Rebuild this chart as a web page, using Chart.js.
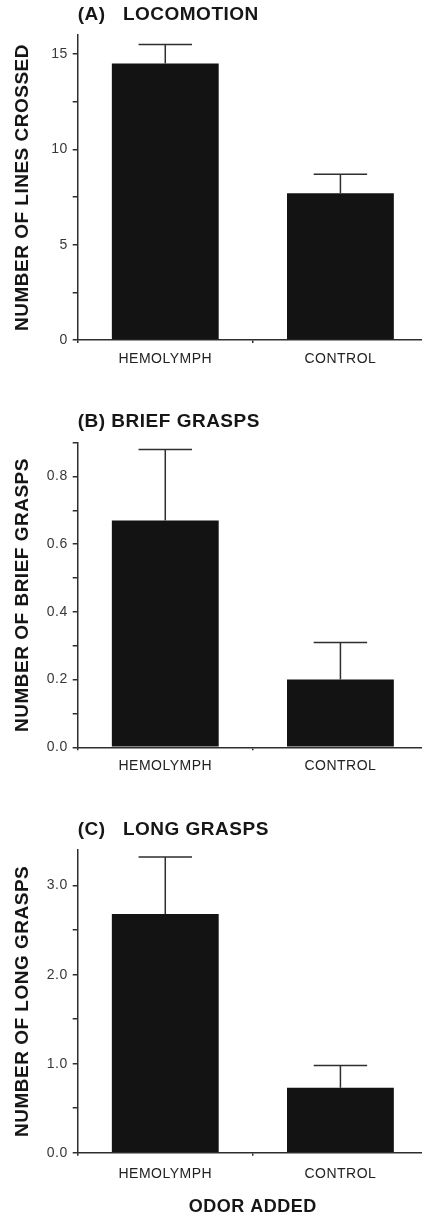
<!DOCTYPE html>
<html><head><meta charset="utf-8">
<script src="https://cdn.jsdelivr.net/npm/chart.js@4.4.1/dist/chart.umd.min.js"></script>
<style>
html,body{margin:0;padding:0;background:#fff;overflow:hidden;width:422px;height:1218px;position:relative;}
.panel{position:absolute;left:0;}
</style></head><body>
<canvas id="cA" class="panel" style="top:0px" width="428" height="375"></canvas>
<canvas id="cB" class="panel" style="top:375px" width="428" height="405"></canvas>
<canvas id="cC" class="panel" style="top:780px" width="428" height="438"></canvas>
<script>
// ---- data ----
const categories = ['HEMOLYMPH', 'CONTROL'];
const locomotionMeans = [14.5, 7.7];
const locomotionErrors = [1.0, 1.0];
const briefMeans = [0.67, 0.20];
const briefErrors = [0.21, 0.11];
const longMeans = [2.68, 0.73];
const longErrors = [0.64, 0.25];
const panelTitles = ['(A)   LOCOMOTION', '(B) BRIEF GRASPS', '(C)   LONG GRASPS'];
const yTitles = ['NUMBER OF LINES CROSSED', 'NUMBER OF BRIEF GRASPS', 'NUMBER OF LONG GRASPS'];
const xTitle = 'ODOR ADDED';

// ---- styling ----
const FONT = "'Liberation Sans', Arial, Helvetica, sans-serif";
const INK = '#161616';
const AXIS = '#2e2e2e';
const LS = '0.5px';

const spacing = {
  id: 'spacing',
  beforeUpdate(c) { c.ctx.letterSpacing = LS; },
  beforeLayout(c) { c.ctx.letterSpacing = LS; },
  beforeDraw(c) { c.ctx.letterSpacing = LS; }
};

const errorBars = {
  id: 'errorBars',
  afterDatasetsDraw(chart) {
    const ctx = chart.ctx, ys = chart.scales.y;
    chart.data.datasets.forEach((ds, di) => {
      const meta = chart.getDatasetMeta(di);
      meta.data.forEach((bar, i) => {
        const top = ys.getPixelForValue(ds.data[i] + ds.errors[i]);
        const base = ys.getPixelForValue(ds.data[i]);
        const half = bar.width * 0.25;
        ctx.save();
        ctx.strokeStyle = AXIS;
        ctx.lineWidth = 1.5;
        ctx.beginPath();
        ctx.moveTo(bar.x, base);
        ctx.lineTo(bar.x, top);
        ctx.moveTo(bar.x - half, top);
        ctx.lineTo(bar.x + half, top);
        ctx.stroke();
        ctx.restore();
      });
    });
  }
};

function panel(id, cfg) {
  new Chart(document.getElementById(id), {
    type: 'bar',
    data: {
      labels: categories,
      datasets: [{
        data: cfg.means,
        errors: cfg.errors,
        backgroundColor: '#131313',
        borderWidth: 0,
        barPercentage: 0.61,
        categoryPercentage: 1
      }]
    },
    plugins: [spacing, errorBars],
    options: {
      responsive: false,
      animation: false,
      devicePixelRatio: 1,
      layout: { padding: 0 },
      plugins: {
        legend: { display: false },
        tooltip: { enabled: false },
        title: {
          display: true, text: cfg.title, align: 'start', fullSize: false,
          color: INK, font: { family: FONT, size: 19, weight: 'bold' },
          padding: { top: cfg.tp, bottom: cfg.tb }
        }
      },
      scales: {
        x: {
          grid: { display: true, drawOnChartArea: false, tickLength: 3, color: AXIS, lineWidth: 1.5, offset: true },
          border: { display: true, color: AXIS, width: 1.5 },
          ticks: { color: '#222', font: { family: FONT, size: 14 }, padding: cfg.xpad, maxRotation: 0 },
          title: {
            display: !!cfg.xTitle, text: cfg.xTitle || '', color: INK,
            font: { family: FONT, size: 18, weight: 'bold' }, padding: { top: 0, bottom: 0.5 }
          },
          afterFit(s) { s.height = cfg.xh; }
        },
        y: {
          min: 0, max: cfg.max,
          ticks: {
            stepSize: cfg.step, includeBounds: false, autoSkip: false,
            color: '#383838', font: { family: FONT, size: 14 }, padding: 5,
            callback(v) {
              const r = v / cfg.labelEvery;
              return Math.abs(r - Math.round(r)) < 1e-6 ? v.toFixed(cfg.decimals) : '';
            }
          },
          grid: { drawOnChartArea: false, tickLength: 5, color: AXIS, lineWidth: 1.5 },
          border: { display: true, color: AXIS, width: 1.5 },
          title: {
            display: true, text: cfg.yTitle, color: INK,
            font: { family: FONT, size: 19, weight: 'bold' }, padding: { top: 11, bottom: 0 }
          },
          afterFit(s) { s.width = 77.7; }
        }
      }
    }
  });
}

panel('cA', { title: panelTitles[0], yTitle: yTitles[0], means: locomotionMeans, errors: locomotionErrors,
  max: 16, step: 2.5, labelEvery: 5, decimals: 0, tp: 3.6, tb: 8.6, xh: 35, xpad: 8 });
panel('cB', { title: panelTitles[1], yTitle: yTitles[1], means: briefMeans, errors: briefErrors,
  max: 0.9, step: 0.1, labelEvery: 0.2, decimals: 1, tp: 35.3, tb: 9.6, xh: 32.7, xpad: 7.5 });
panel('cC', { title: panelTitles[2], yTitle: yTitles[2], means: longMeans, errors: longErrors,
  max: 3.4, step: 0.5, labelEvery: 1, decimals: 1, tp: 37.9, tb: 9.3, xh: 65.3, xpad: 10, xTitle: xTitle });
</script>
</body></html>
